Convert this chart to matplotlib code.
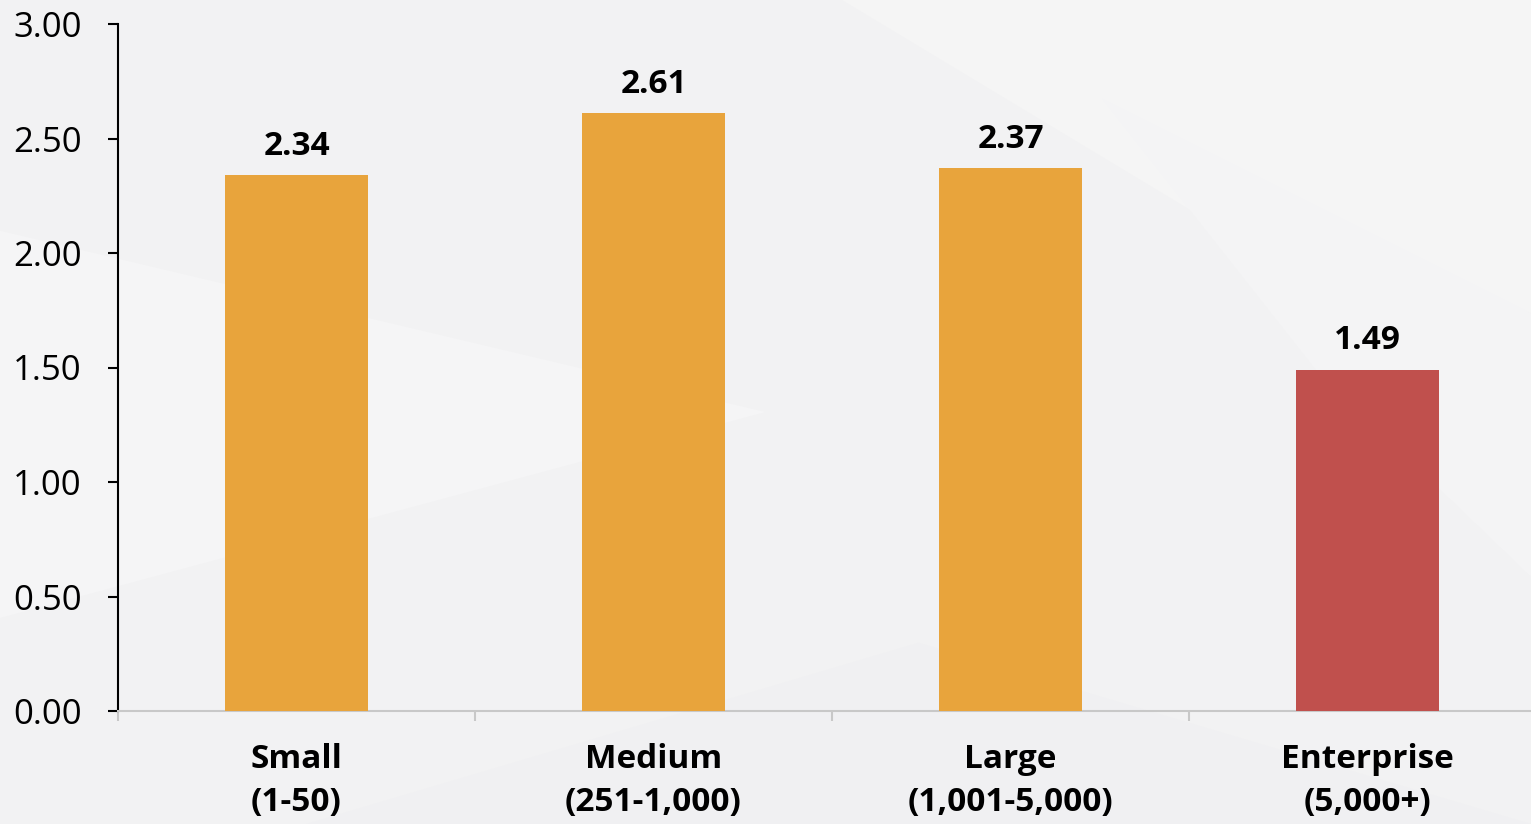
import numpy as np
import matplotlib.pyplot as plt
from matplotlib.patches import Polygon

categories = ["Small\n(1-50)", "Medium\n(251-1,000)", "Large\n(1,001-5,000)", "Enterprise\n(5,000+)"]
values = [2.34, 2.61, 2.37, 1.49]
bar_colors = ["#E8A43C", "#E8A43C", "#E8A43C", "#C0504D"]
yticks = [0.0, 0.5, 1.0, 1.5, 2.0, 2.5, 3.0]

plt.rcParams["font.family"] = ["Open Sans", "DejaVu Sans"]

fig = plt.figure(figsize=(15.31, 8.24), dpi=100)
fig.patch.set_facecolor("#f2f2f3")

# faint background shapes
bg_shapes = [
    ([(0.0, 0.72), (0.5, 0.5), (0.0, 0.25)], "#f5f5f6"),
    ([(0.55, 1.0), (1.0, 1.0), (1.0, 0.62), (0.8, 0.72)], "#f5f5f5"),
    ([(0.72, 0.88), (1.0, 0.62), (1.0, 0.3), (0.86, 0.55)], "#f4f4f5"),
    ([(0.2, 0.0), (0.6, 0.22), (1.0, 0.0)], "#f0f0f2"),
]
for pts, c in bg_shapes:
    fig.patches.append(Polygon(pts, closed=True, transform=fig.transFigure,
                               facecolor=c, edgecolor="none", zorder=-10))

ax = fig.add_axes([118 / 1531, 113 / 824, 1428 / 1531, 687 / 824])
ax.set_facecolor("none")

x = np.arange(len(categories))
ax.bar(x, values, width=0.4, color=bar_colors, zorder=3)

for xi, v in zip(x, values):
    ax.annotate(f"{v:.2f}", (xi, v), xytext=(0, 9), textcoords="offset points",
                ha="center", va="bottom", fontsize=24, fontweight="bold", color="black")

ax.set_xlim(-0.5, 3.5)
ax.set_ylim(0, 3.0)
ax.set_yticks(yticks)
ax.set_yticklabels([f"{t:.2f}" for t in yticks], fontsize=25)
ax.tick_params(axis="y", length=7, width=1.5, color="black", pad=19)

ax.set_xticks(x)
ax.set_xticklabels(categories, fontsize=24, fontweight="bold", linespacing=1.42)
ax.tick_params(axis="x", which="major", length=0, pad=23)
ax.set_xticks(np.arange(-0.5, 4.0, 1.0), minor=True)
ax.tick_params(axis="x", which="minor", length=7, width=1.5, color="#c8c8c8")

for s in ["top", "right"]:
    ax.spines[s].set_visible(False)
ax.spines["left"].set_color("black")
ax.spines["left"].set_linewidth(1.5)
ax.spines["bottom"].set_color("#c8c8c8")
ax.spines["bottom"].set_linewidth(1.5)

fig.savefig("out.png", dpi=100, facecolor=fig.get_facecolor())
